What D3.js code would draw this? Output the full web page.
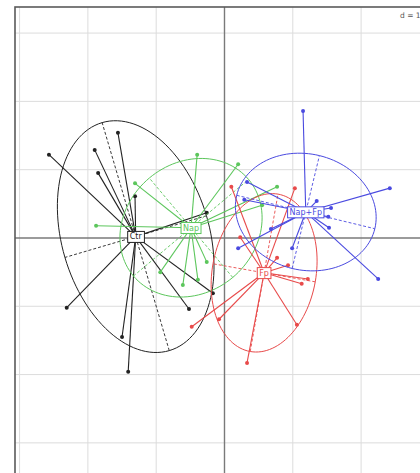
<!DOCTYPE html>
<html>
<head>
<meta charset="utf-8">
<script src="https://cdn.jsdelivr.net/npm/d3@7/dist/d3.min.js"></script>
<style>
  html, body { margin: 0; padding: 0; background: #fff; }
  svg { display: block; }
  text { font-family: "DejaVu Sans", sans-serif; }
</style>
</head>
<body>
<svg id="chart" width="420" height="473"></svg>
<script>
// Group names and colours
const classNames  = ["Ctr", "Nap", "Fp", "Nap+Fp"];
const classColors = ["#222222", "#5cc65c", "#e84a4a", "#4a4ae0"];

// Group centres (factorial coordinates)
const centerX = [-1.30, -0.49, 0.58, 1.19];
const centerY = [ 0.02,  0.15, -0.51, 0.38];

// Inertia ellipses: semi-axes and orientation of the first axis (degrees)
const ellA     = [1.74, 1.10, 1.17, 1.04];
const ellB     = [1.08, 0.95, 0.76, 0.85];
const ellAngle = [106.4, 40, 80, -13.6];

// Row scores per group
const ctrX = [-2.57, -1.90, -1.85, -1.56, -1.31, -0.26, -2.31, -1.50, -1.41, -0.52, -0.17];
const ctrY = [ 1.22,  1.29,  0.95,  1.54,  0.61,  0.37, -1.02, -1.45, -1.96, -1.04, -0.81];
const napX = [-0.40, 0.20, 0.77, -1.31, -1.88, -0.94, -0.61, -0.39, -0.26, 0.55];
const napY = [ 1.22, 1.08, 0.75,  0.80,  0.18, -0.50, -0.69, -0.61, -0.35, 0.48];
const fpX  = [0.10, 1.03, 0.23,  0.77,  0.93,  1.22,  1.13,  1.06,  0.33, -0.08, -0.48];
const fpY  = [0.75, 0.73, 0.01, -0.29, -0.40, -0.60, -0.67, -1.27, -1.83, -1.19, -1.30];
const nfX  = [1.15, 2.42,  2.25, 0.33, 0.29, 0.68,  0.20,  0.99, 1.35, 1.56, 1.52, 1.53];
const nfY  = [1.86, 0.73, -0.60, 0.82, 0.56, 0.13, -0.15, -0.15, 0.54, 0.44, 0.31, 0.15];

const groupX = [ctrX, napX, fpX, nfX];
const groupY = [ctrY, napY, fpY, nfY];

// Grid mesh
const gridStep = 1;
const gridLabel = "d = 1";

const svg = d3.select("#chart");

// Plotting region (extends past the right and bottom window edges)
const pLeft = 15, pTop = 7, pRight = 440, pBottom = 490;
const x = d3.scaleLinear().domain([-3.067, 3.155]).range([pLeft, pRight]);
const y = d3.scaleLinear().domain([3.382, -3.690]).range([pTop, pBottom]);

const xs = d3.range(Math.ceil(x.domain()[0] / gridStep) * gridStep, x.domain()[1], gridStep);
const ys = d3.range(Math.ceil(y.domain()[1] / gridStep) * gridStep, y.domain()[0], gridStep);

const grid = svg.append("g");
grid.selectAll("line.v").data(xs.filter(v => Math.abs(v) > 1e-9)).join("line")
  .attr("class", "v")
  .attr("x1", d => x(d)).attr("x2", d => x(d))
  .attr("y1", pTop).attr("y2", pBottom)
  .attr("stroke", "#dcdcdc").attr("stroke-width", 1);
grid.selectAll("line.h").data(ys.filter(v => Math.abs(v) > 1e-9)).join("line")
  .attr("class", "h")
  .attr("y1", d => y(d)).attr("y2", d => y(d))
  .attr("x1", pLeft).attr("x2", pRight)
  .attr("stroke", "#dcdcdc").attr("stroke-width", 1);

// Axes through the origin
grid.append("line").attr("x1", x(0)).attr("x2", x(0)).attr("y1", pTop).attr("y2", pBottom)
  .attr("stroke", "#7a7a7a").attr("stroke-width", 1.4);
grid.append("line").attr("y1", y(0)).attr("y2", y(0)).attr("x1", pLeft).attr("x2", pRight)
  .attr("stroke", "#7a7a7a").attr("stroke-width", 1.4);

// Frame
svg.append("rect").attr("x", pLeft).attr("y", pTop)
  .attr("width", pRight - pLeft).attr("height", pBottom - pTop)
  .attr("fill", "none").attr("stroke", "#5a5a5a").attr("stroke-width", 1.6);

// Scale label
const dl = svg.append("g");
dl.append("rect").attr("x", 397).attr("y", 9).attr("width", 40).attr("height", 12).attr("fill", "#fff");
dl.append("text").attr("x", 400).attr("y", 18).attr("font-size", 7.5).attr("fill", "#555").text(gridLabel);

const line = d3.line().x(d => x(d[0])).y(d => y(d[1]));

function ellipsePoints(i) {
  const th = ellAngle[i] * Math.PI / 180, c = Math.cos(th), s = Math.sin(th);
  return d3.range(0, 361, 3).map(deg => {
    const t = deg * Math.PI / 180;
    const u = ellA[i] * Math.cos(t), v = ellB[i] * Math.sin(t);
    return [centerX[i] + u * c - v * s, centerY[i] + u * s + v * c];
  });
}

const order = [0, 1, 2, 3];
order.forEach(i => {
  const g = svg.append("g");
  const col = classColors[i];
  const cx = centerX[i], cy = centerY[i];
  const th = ellAngle[i] * Math.PI / 180, c = Math.cos(th), s = Math.sin(th);

  // ellipse
  g.append("path").attr("d", line(ellipsePoints(i)))
    .attr("fill", "none").attr("stroke", col).attr("stroke-width", 1);

  // ellipse axes
  const axes = [
    [[cx - ellA[i] * c, cy - ellA[i] * s], [cx + ellA[i] * c, cy + ellA[i] * s]],
    [[cx + ellB[i] * s, cy - ellB[i] * c], [cx - ellB[i] * s, cy + ellB[i] * c]]
  ];
  g.selectAll("path.ax").data(axes).join("path")
    .attr("class", "ax")
    .attr("d", d => line(d))
    .attr("fill", "none").attr("stroke", col).attr("stroke-width", 0.9)
    .attr("stroke-dasharray", "3,2");

  // stars
  const pts = groupX[i].map((v, k) => [v, groupY[i][k]]);
  g.selectAll("line.star").data(pts).join("line")
    .attr("class", "star")
    .attr("x1", x(cx)).attr("y1", y(cy))
    .attr("x2", d => x(d[0])).attr("y2", d => y(d[1]))
    .attr("stroke", col).attr("stroke-width", 1.1);

  // points
  g.selectAll("circle").data(pts).join("circle")
    .attr("cx", d => x(d[0])).attr("cy", d => y(d[1]))
    .attr("r", 2).attr("fill", col);
});

// Group labels
order.forEach(i => {
  const col = classColors[i];
  const g = svg.append("g").attr("transform", `translate(${x(centerX[i])},${y(centerY[i])})`);
  const t = g.append("text").attr("text-anchor", "middle").attr("dy", "0.35em")
    .attr("font-size", 8).attr("fill", col).text(classNames[i]);
  const bb = t.node().getBBox();
  g.insert("rect", "text")
    .attr("x", bb.x - 2).attr("y", bb.y - 1)
    .attr("width", bb.width + 4).attr("height", bb.height + 2)
    .attr("fill", "#fff").attr("stroke", col).attr("stroke-width", 1);
});
</script>
</body>
</html>
